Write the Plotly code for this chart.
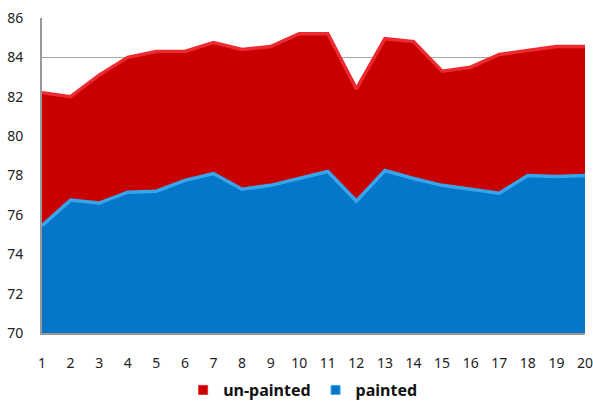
import plotly.graph_objects as go

x_labels = list(range(1, 21))
unpainted = [82.2, 82.0, 83.1, 84.0, 84.3, 84.3, 84.75, 84.4, 84.55, 85.2,
             85.2, 82.4, 84.95, 84.8, 83.3, 83.5, 84.15, 84.35, 84.55, 84.55]
painted = [75.45, 76.75, 76.6, 77.15, 77.2, 77.75, 78.1, 77.3, 77.5, 77.85,
           78.2, 76.7, 78.25, 77.85, 77.5, 77.3, 77.1, 78.0, 77.95, 78.0]

red_fill, red_rim = "#c80000", "#ec2a30"
blue_fill, blue_rim = "#0676c8", "#36a6ec"

fig = go.Figure()
fig.add_trace(go.Scatter(
    x=x_labels, y=unpainted, name="un-painted", mode="lines",
    fill="tozeroy", fillcolor=red_fill, showlegend=False,
    line=dict(color=red_rim, width=3.5, shape="linear"),
))
fig.add_trace(go.Scatter(
    x=x_labels, y=painted, name="painted", mode="lines",
    fill="tozeroy", fillcolor=blue_fill, showlegend=False,
    line=dict(color=blue_rim, width=3.5, shape="linear"),
))
# legend entries with square swatches
for nm, fc, rc in [("un-painted", red_fill, red_rim), ("painted", blue_fill, blue_rim)]:
    fig.add_trace(go.Scatter(
        x=[None], y=[None], name=nm, mode="markers",
        marker=dict(symbol="square", size=9, color=fc, line=dict(color=rc, width=1)),
    ))

fig.update_layout(
    width=593, height=402,
    margin=dict(l=42, r=8, t=18, b=69, autoexpand=False),
    paper_bgcolor="white", plot_bgcolor="white",
    font=dict(family="Noto Sans, Open Sans, sans-serif", size=14, color="#222222"),
    showlegend=True,
    legend=dict(orientation="h", x=0.48, xanchor="center",
                yref="container", y=1 - 390 / 402, yanchor="middle",
                font=dict(size=16, color="#111111", weight="bold"),
                itemwidth=30, traceorder="normal"),
    xaxis=dict(
        range=[1, 20], tickmode="array", tickvals=x_labels,
        ticktext=[str(v) for v in x_labels], automargin=False,
        showgrid=False, zeroline=False, showline=True, ticklabeloverflow="allow",
        linecolor="#999999", linewidth=2, ticks="", ticklabelstandoff=16,
    ),
    yaxis=dict(
        range=[70, 86], dtick=2, tick0=70, automargin=False,
        showgrid=True, gridcolor="#a6a6a6", gridwidth=1.3,
        zeroline=False, showline=True, linecolor="#999999", linewidth=2,
        ticks="", ticklabelstandoff=14,
    ),
)

fig.write_html("out.html", config={"displayModeBar": False},
               post_script="document.body.style.margin='0';document.body.style.overflow='hidden';")
